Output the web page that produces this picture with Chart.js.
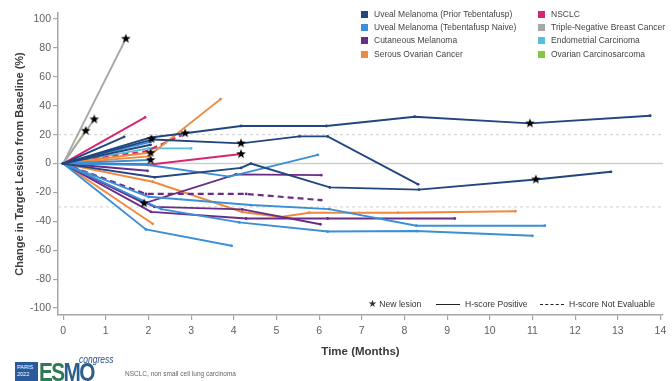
<!DOCTYPE html>
<html>
<head>
<meta charset="utf-8">
<script src="https://cdn.jsdelivr.net/npm/chart.js@4.4.1/dist/chart.umd.min.js"></script>
<style>
body{margin:0;background:#fff;font-family:"Liberation Sans",Arial,sans-serif;}
#wrap{position:relative;width:672px;height:381px;overflow:hidden;}
#c{position:absolute;left:0;top:0;}
.leg{position:absolute;font-size:8.5px;color:#444;white-space:nowrap;line-height:10px;}
.leg i{display:inline-block;width:7px;height:7px;margin-right:6px;vertical-align:-1px;}
.low{position:absolute;top:299px;font-size:8.6px;color:#333;white-space:nowrap;line-height:10px;}
.ln{position:absolute;top:304px;width:24px;height:0;border-top:1.8px solid #222;}
.ln.d{border-top:1.8px dashed #222;}
#foot{position:absolute;left:125px;top:370px;font-size:6.5px;color:#666;white-space:nowrap;}
#paris{position:absolute;left:15px;top:362px;width:23px;height:19px;background:#2a5a9c;color:#fff;font-size:5.5px;line-height:6.5px;padding:2px 0 0 2px;box-sizing:border-box;}
#esmo{position:absolute;left:39px;top:359px;font-size:26px;font-weight:bold;letter-spacing:-2px;line-height:26px;transform:scaleX(0.8);transform-origin:left top;}
#congress{position:absolute;left:79px;top:355px;font-size:10px;font-style:italic;color:#2a4f8a;line-height:10px;transform:scaleX(0.85);transform-origin:left top;}
</style>
</head>
<body>
<div id="wrap">
<canvas id="c" width="672" height="381"></canvas>
<div id="paris">PARIS<br>2022</div>
<div id="esmo"><span style="color:#2f7a55">ES</span><span style="color:#2b5f8e">MO</span></div>
<div id="congress">congress</div>
<div id="foot">NSCLC, non small cell lung carcinoma</div>
</div>
<script>
// cohorts in legend order (two columns of four)
const COHORTS=[
"Uveal Melanoma (Prior Tebentafusp)",
"Uveal Melanoma (Tebentafusp Naive)",
"Cutaneous Melanoma",
"Serous Ovarian Cancer",
"NSCLC",
"Triple-Negative Breast Cancer",
"Endometrial Carcinoma",
"Ovarian Carcinosarcoma"
];
const COLORS=["#22467f","#3b8fd6","#6a2d86","#f0893d","#d6266f","#a8a8a8","#52c2d9","#88c443"];

const X_TICKS=[0,1,2,3,4,5,6,7,8,9,10,11,12,13,14];
const Y_TICKS=[-100,-80,-60,-40,-20,0,20,40,60,80,100];
const REF_SOLID=[0];
const REF_DASHED=[20,-30];

// [months, % change] per patient
const pt01=[[0,0],[2.05,18],[2.86,21],[4.17,26],[6.17,26],[8.24,32.4],[10.94,27.8],[13.76,33.1]];
const pt02=[[0,0],[2.1,16.7],[4.17,14],[5.54,18.8],[6.2,18.8],[8.32,-14.4]];
const pt03=[[0,0],[2.15,-9.5],[4.17,-3],[4.4,0],[6.25,-16.5],[8.34,-18],[11.08,-11],[12.84,-5.7]];
const pt04=[[0,0],[1.43,18.5]];
const pt05=[[0,0],[2.05,13]];
const pt06=[[0,0],[1.94,-45.6],[3.95,-56.9]];
const pt07=[[0,0],[2.0,-23],[4.4,-28.7],[6.24,-31.5],[8.28,-43],[11.29,-43]];
const pt08=[[0,0],[2.3,-31.5],[4.13,-40.7],[6.2,-47],[8.28,-46.7],[11.0,-50]];
const pt09=[[0,0],[2.0,-1],[3.9,-9],[5.97,6]];
const pt10=[[0,0],[2.05,15]];
const pt11=[[0,0],[2.0,2.5]];
const pt12=[[0,0],[1.9,-27.5],[4.05,-7.5],[6.05,-8]];
const pt13=[[0,0],[1.98,-5]];
const pt14=[[0,0],[2.14,-30],[4.2,-31.7],[6.03,-42]];
const pt15=[[0,0],[2.06,-33.4],[4.29,-38],[6.2,-38],[9.18,-38]];
const pt16=[[0,0],[1.94,-21],[4.29,-21],[6.05,-25.3]];
const pt17=[[0,0],[2.1,-41.7]];
const pt18=[[0,0],[2.1,-12.6],[4.2,-33.5],[5.1,-37],[5.77,-34],[7.85,-34],[10.6,-33]];
const pt19=[[0,0],[2.0,5],[3.69,44.6]];
const pt20=[[0,0],[2.0,7.5]];
const pt21=[[0,0],[1.92,32]];
const pt22=[[0,0],[2.1,-0.5],[4.17,6.6]];
const pt23=[[0,0],[1.95,8.5],[2.76,19.5]];
const pt24=[[0,0],[0.73,30.6]];
const pt25=[[0,0],[1.47,86.4]];
const pt26=[[0,0],[2.0,10.5],[3.0,10.5]];
const pt27=[[0,0],[0.53,22.7]];

// cohort index, points, H-score not evaluable
const PATIENTS=[
[0,pt01,false],[0,pt02,false],[0,pt03,false],[0,pt04,false],[0,pt05,false],
[1,pt06,false],[1,pt07,false],[1,pt08,false],[1,pt09,false],[1,pt10,false],[1,pt11,false],
[2,pt12,false],[2,pt13,false],[2,pt14,false],[2,pt15,false],[2,pt16,true],
[3,pt17,false],[3,pt18,false],[3,pt19,false],[3,pt20,false],
[4,pt21,false],[4,pt22,false],[4,pt23,true],
[5,pt24,false],[5,pt25,false],
[6,pt26,false],
[7,pt27,false]
];

const NEW_LESIONS=[[0.53,22.7],[0.73,30.6],[1.47,86.4],[2.07,17],[2.05,7.5],[2.05,2.5],[2.86,21],[4.17,14],[4.17,6.6],[10.94,27.8],[11.08,-11],[1.9,-27.5]];

function starImg(r){
const c=document.createElement("canvas");
c.width=c.height=r*2+2;
const g=c.getContext("2d");
g.beginPath();
for(let i=0;i<10;i++){
const a=-Math.PI/2+i*Math.PI/5;
const rr=i%2?r*0.42:r;
g.lineTo(r+1+rr*Math.cos(a),r+1+rr*Math.sin(a));
}
g.closePath();
g.fillStyle="#000";
g.fill();
return c;
}

// legends
const wrap=document.getElementById("wrap");
COHORTS.forEach((name,i)=>{
const d=document.createElement("div");
d.className="leg";
d.style.left=(i<4?361:538)+"px";
d.style.top=(9+(i%4)*13.2)+"px";
d.innerHTML=`<i style="background:${COLORS[i]}"></i>${name}`;
wrap.appendChild(d);
});
const s=document.createElement("div");
s.className="low";s.style.left="368px";
s.innerHTML='<span style="font-family:\'DejaVu Sans\';font-size:10px">★</span> New lesion';
wrap.appendChild(s);
wrap.insertAdjacentHTML("beforeend",
'<div class="ln" style="left:436px"></div><div class="low" style="left:465px">H-score Positive</div>'+
'<div class="ln d" style="left:540px"></div><div class="low" style="left:569px">H-score Not Evaluable</div>');

const refLines={
id:"refLines",
beforeDatasetsDraw(chart){
const {ctx,chartArea:a,scales:{y}}=chart;
ctx.save();
ctx.strokeStyle="#cfcfcf";
ctx.lineWidth=1.5;
REF_SOLID.forEach(v=>{
const py=y.getPixelForValue(v);
ctx.beginPath();ctx.moveTo(a.left,py);ctx.lineTo(a.right,py);ctx.stroke();
});
ctx.lineWidth=1;
ctx.setLineDash([3,3]);
REF_DASHED.forEach(v=>{
const py=y.getPixelForValue(v);
ctx.beginPath();ctx.moveTo(a.left,py);ctx.lineTo(a.right,py);ctx.stroke();
});
ctx.restore();
}
};

const datasets=PATIENTS.map(([c,pts,dash])=>({
data:pts.map(p=>({x:p[0],y:p[1]})),
borderColor:COLORS[c],
backgroundColor:COLORS[c],
borderWidth:dash?2.2:1.9,
borderDash:dash?[6,4]:[],
pointRadius:1.4,
pointBorderWidth:0,
tension:0
}));
datasets.unshift({
data:NEW_LESIONS.map(p=>({x:p[0],y:p[1]})),
showLine:false,
pointStyle:starImg(5),
pointRadius:5,
order:-1
});

new Chart(document.getElementById("c"),{
type:"line",
data:{datasets},
plugins:[refLines],
options:{
responsive:false,
animation:false,
devicePixelRatio:1,
layout:{padding:{top:13,right:9,left:0,bottom:0}},
plugins:{legend:{display:false},tooltip:{enabled:false}},
scales:{
x:{
type:"linear",min:-0.12,max:14.06,
afterBuildTicks:sc=>{sc.ticks=X_TICKS.map(v=>({value:v}));},
afterFit:sc=>{sc.height=66;},
grid:{drawOnChartArea:false,drawTicks:true,tickLength:5,color:"#a6a6a6",lineWidth:1.2},
border:{color:"#a6a6a6",width:1.5},
ticks:{color:"#606060",font:{size:10.5,family:"Liberation Sans"},padding:5,maxRotation:0},
title:{display:true,text:"Time (Months)",color:"#3a3a3a",font:{size:11.5,weight:"bold",family:"Liberation Sans"},padding:{top:0,bottom:22}}
},
y:{
min:-104.8,max:104.2,
afterBuildTicks:sc=>{sc.ticks=Y_TICKS.map(v=>({value:v}));},
afterFit:sc=>{sc.width=58;},
grid:{drawOnChartArea:false,drawTicks:true,tickLength:5,color:"#a6a6a6",lineWidth:1.2},
border:{color:"#a6a6a6",width:1.5},
ticks:{color:"#606060",font:{size:10.5,family:"Liberation Sans"},padding:2},
title:{display:true,text:"Change in Target Lesion from Baseline (%)",color:"#3a3a3a",font:{size:11,weight:"bold",family:"Liberation Sans"},padding:{top:13,bottom:0}}
}
}
}
});
</script>
</body>
</html>
